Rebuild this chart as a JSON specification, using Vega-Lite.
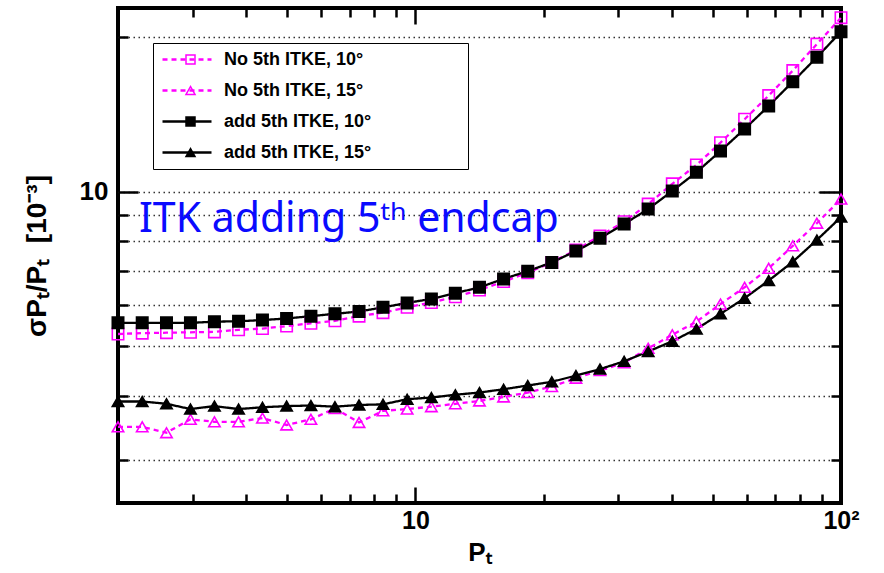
{
  "$schema": "https://vega.github.io/schema/vega-lite/v6.json",
  "width": 723,
  "height": 495,
  "autosize": {"type": "none"},
  "padding": {"left": 118, "top": 8, "right": 43, "bottom": 70},
  "background": "white",
  "config": {"view": {"stroke": "black", "strokeWidth": 4}, "font": "Liberation Sans"},
  "datasets": {
    "curves": [
      {"series": "No 5th ITKE, 10°", "pt": 2.00, "res": 5.28},
      {"series": "No 5th ITKE, 10°", "pt": 2.28, "res": 5.30},
      {"series": "No 5th ITKE, 10°", "pt": 2.60, "res": 5.31},
      {"series": "No 5th ITKE, 10°", "pt": 2.96, "res": 5.32},
      {"series": "No 5th ITKE, 10°", "pt": 3.37, "res": 5.33},
      {"series": "No 5th ITKE, 10°", "pt": 3.84, "res": 5.38},
      {"series": "No 5th ITKE, 10°", "pt": 4.37, "res": 5.41},
      {"series": "No 5th ITKE, 10°", "pt": 4.98, "res": 5.47},
      {"series": "No 5th ITKE, 10°", "pt": 5.68, "res": 5.54},
      {"series": "No 5th ITKE, 10°", "pt": 6.47, "res": 5.60},
      {"series": "No 5th ITKE, 10°", "pt": 7.37, "res": 5.72},
      {"series": "No 5th ITKE, 10°", "pt": 8.39, "res": 5.81},
      {"series": "No 5th ITKE, 10°", "pt": 9.56, "res": 5.95},
      {"series": "No 5th ITKE, 10°", "pt": 10.90, "res": 6.08},
      {"series": "No 5th ITKE, 10°", "pt": 12.41, "res": 6.24},
      {"series": "No 5th ITKE, 10°", "pt": 14.14, "res": 6.43},
      {"series": "No 5th ITKE, 10°", "pt": 16.11, "res": 6.68},
      {"series": "No 5th ITKE, 10°", "pt": 18.36, "res": 6.95},
      {"series": "No 5th ITKE, 10°", "pt": 20.91, "res": 7.28},
      {"series": "No 5th ITKE, 10°", "pt": 23.83, "res": 7.70},
      {"series": "No 5th ITKE, 10°", "pt": 27.14, "res": 8.20},
      {"series": "No 5th ITKE, 10°", "pt": 30.93, "res": 8.74},
      {"series": "No 5th ITKE, 10°", "pt": 35.23, "res": 9.46},
      {"series": "No 5th ITKE, 10°", "pt": 40.14, "res": 10.36},
      {"series": "No 5th ITKE, 10°", "pt": 45.73, "res": 11.27},
      {"series": "No 5th ITKE, 10°", "pt": 52.10, "res": 12.46},
      {"series": "No 5th ITKE, 10°", "pt": 59.36, "res": 13.84},
      {"series": "No 5th ITKE, 10°", "pt": 67.62, "res": 15.39},
      {"series": "No 5th ITKE, 10°", "pt": 77.04, "res": 17.22},
      {"series": "No 5th ITKE, 10°", "pt": 87.77, "res": 19.39},
      {"series": "No 5th ITKE, 10°", "pt": 100, "res": 21.83},
      {"series": "No 5th ITKE, 15°", "pt": 2.00, "res": 3.48},
      {"series": "No 5th ITKE, 15°", "pt": 2.28, "res": 3.48},
      {"series": "No 5th ITKE, 15°", "pt": 2.60, "res": 3.39},
      {"series": "No 5th ITKE, 15°", "pt": 2.96, "res": 3.60},
      {"series": "No 5th ITKE, 15°", "pt": 3.37, "res": 3.56},
      {"series": "No 5th ITKE, 15°", "pt": 3.84, "res": 3.56},
      {"series": "No 5th ITKE, 15°", "pt": 4.37, "res": 3.62},
      {"series": "No 5th ITKE, 15°", "pt": 4.98, "res": 3.51},
      {"series": "No 5th ITKE, 15°", "pt": 5.68, "res": 3.60},
      {"series": "No 5th ITKE, 15°", "pt": 6.47, "res": 3.78},
      {"series": "No 5th ITKE, 15°", "pt": 7.37, "res": 3.55},
      {"series": "No 5th ITKE, 15°", "pt": 8.39, "res": 3.74},
      {"series": "No 5th ITKE, 15°", "pt": 9.56, "res": 3.77},
      {"series": "No 5th ITKE, 15°", "pt": 10.90, "res": 3.81},
      {"series": "No 5th ITKE, 15°", "pt": 12.41, "res": 3.86},
      {"series": "No 5th ITKE, 15°", "pt": 14.14, "res": 3.91},
      {"series": "No 5th ITKE, 15°", "pt": 16.11, "res": 3.98},
      {"series": "No 5th ITKE, 15°", "pt": 18.36, "res": 4.06},
      {"series": "No 5th ITKE, 15°", "pt": 20.91, "res": 4.17},
      {"series": "No 5th ITKE, 15°", "pt": 23.83, "res": 4.33},
      {"series": "No 5th ITKE, 15°", "pt": 27.14, "res": 4.48},
      {"series": "No 5th ITKE, 15°", "pt": 30.93, "res": 4.64},
      {"series": "No 5th ITKE, 15°", "pt": 35.23, "res": 4.95},
      {"series": "No 5th ITKE, 15°", "pt": 40.14, "res": 5.26},
      {"series": "No 5th ITKE, 15°", "pt": 45.73, "res": 5.58},
      {"series": "No 5th ITKE, 15°", "pt": 52.10, "res": 6.04},
      {"series": "No 5th ITKE, 15°", "pt": 59.36, "res": 6.51},
      {"series": "No 5th ITKE, 15°", "pt": 67.62, "res": 7.09},
      {"series": "No 5th ITKE, 15°", "pt": 77.04, "res": 7.84},
      {"series": "No 5th ITKE, 15°", "pt": 87.77, "res": 8.68},
      {"series": "No 5th ITKE, 15°", "pt": 100, "res": 9.67},
      {"series": "add 5th ITKE, 10°", "pt": 2.00, "res": 5.55},
      {"series": "add 5th ITKE, 10°", "pt": 2.28, "res": 5.55},
      {"series": "add 5th ITKE, 10°", "pt": 2.60, "res": 5.55},
      {"series": "add 5th ITKE, 10°", "pt": 2.96, "res": 5.55},
      {"series": "add 5th ITKE, 10°", "pt": 3.37, "res": 5.58},
      {"series": "add 5th ITKE, 10°", "pt": 3.84, "res": 5.59},
      {"series": "add 5th ITKE, 10°", "pt": 4.37, "res": 5.62},
      {"series": "add 5th ITKE, 10°", "pt": 4.98, "res": 5.66},
      {"series": "add 5th ITKE, 10°", "pt": 5.68, "res": 5.72},
      {"series": "add 5th ITKE, 10°", "pt": 6.47, "res": 5.78},
      {"series": "add 5th ITKE, 10°", "pt": 7.37, "res": 5.84},
      {"series": "add 5th ITKE, 10°", "pt": 8.39, "res": 5.95},
      {"series": "add 5th ITKE, 10°", "pt": 9.56, "res": 6.07},
      {"series": "add 5th ITKE, 10°", "pt": 10.90, "res": 6.18},
      {"series": "add 5th ITKE, 10°", "pt": 12.41, "res": 6.34},
      {"series": "add 5th ITKE, 10°", "pt": 14.14, "res": 6.51},
      {"series": "add 5th ITKE, 10°", "pt": 16.11, "res": 6.76},
      {"series": "add 5th ITKE, 10°", "pt": 18.36, "res": 7.00},
      {"series": "add 5th ITKE, 10°", "pt": 20.91, "res": 7.28},
      {"series": "add 5th ITKE, 10°", "pt": 23.83, "res": 7.66},
      {"series": "add 5th ITKE, 10°", "pt": 27.14, "res": 8.11},
      {"series": "add 5th ITKE, 10°", "pt": 30.93, "res": 8.65},
      {"series": "add 5th ITKE, 10°", "pt": 35.23, "res": 9.25},
      {"series": "add 5th ITKE, 10°", "pt": 40.14, "res": 10.03},
      {"series": "add 5th ITKE, 10°", "pt": 45.73, "res": 10.91},
      {"series": "add 5th ITKE, 10°", "pt": 52.10, "res": 12.00},
      {"series": "add 5th ITKE, 10°", "pt": 59.36, "res": 13.25},
      {"series": "add 5th ITKE, 10°", "pt": 67.62, "res": 14.69},
      {"series": "add 5th ITKE, 10°", "pt": 77.04, "res": 16.38},
      {"series": "add 5th ITKE, 10°", "pt": 87.77, "res": 18.28},
      {"series": "add 5th ITKE, 10°", "pt": 100, "res": 20.50},
      {"series": "add 5th ITKE, 15°", "pt": 2.00, "res": 3.90},
      {"series": "add 5th ITKE, 15°", "pt": 2.28, "res": 3.90},
      {"series": "add 5th ITKE, 15°", "pt": 2.60, "res": 3.86},
      {"series": "add 5th ITKE, 15°", "pt": 2.96, "res": 3.77},
      {"series": "add 5th ITKE, 15°", "pt": 3.37, "res": 3.82},
      {"series": "add 5th ITKE, 15°", "pt": 3.84, "res": 3.77},
      {"series": "add 5th ITKE, 15°", "pt": 4.37, "res": 3.80},
      {"series": "add 5th ITKE, 15°", "pt": 4.98, "res": 3.82},
      {"series": "add 5th ITKE, 15°", "pt": 5.68, "res": 3.83},
      {"series": "add 5th ITKE, 15°", "pt": 6.47, "res": 3.81},
      {"series": "add 5th ITKE, 15°", "pt": 7.37, "res": 3.84},
      {"series": "add 5th ITKE, 15°", "pt": 8.39, "res": 3.85},
      {"series": "add 5th ITKE, 15°", "pt": 9.56, "res": 3.94},
      {"series": "add 5th ITKE, 15°", "pt": 10.90, "res": 3.97},
      {"series": "add 5th ITKE, 15°", "pt": 12.41, "res": 4.02},
      {"series": "add 5th ITKE, 15°", "pt": 14.14, "res": 4.06},
      {"series": "add 5th ITKE, 15°", "pt": 16.11, "res": 4.12},
      {"series": "add 5th ITKE, 15°", "pt": 18.36, "res": 4.19},
      {"series": "add 5th ITKE, 15°", "pt": 20.91, "res": 4.26},
      {"series": "add 5th ITKE, 15°", "pt": 23.83, "res": 4.38},
      {"series": "add 5th ITKE, 15°", "pt": 27.14, "res": 4.51},
      {"series": "add 5th ITKE, 15°", "pt": 30.93, "res": 4.67},
      {"series": "add 5th ITKE, 15°", "pt": 35.23, "res": 4.88},
      {"series": "add 5th ITKE, 15°", "pt": 40.14, "res": 5.11},
      {"series": "add 5th ITKE, 15°", "pt": 45.73, "res": 5.40},
      {"series": "add 5th ITKE, 15°", "pt": 52.10, "res": 5.78},
      {"series": "add 5th ITKE, 15°", "pt": 59.36, "res": 6.20},
      {"series": "add 5th ITKE, 15°", "pt": 67.62, "res": 6.71},
      {"series": "add 5th ITKE, 15°", "pt": 77.04, "res": 7.30},
      {"series": "add 5th ITKE, 15°", "pt": 87.77, "res": 8.05},
      {"series": "add 5th ITKE, 15°", "pt": 100, "res": 8.92}
    ],
    "note": [{"pt": 2.24, "res": 8.35, "label": "ITK adding 5ᵗʰ endcap"}]
  },
  "data": {"name": "curves"},
  "layer": [
    {
      "mark": {"type": "line", "strokeWidth": 2.3, "clip": false},
      "encoding": {
        "x": {"field": "pt", "type": "quantitative",
          "scale": {"type": "log", "domain": [2, 100], "nice": false},
          "axis": {"orient": "bottom", "values": [3,4,5,6,7,8,9,10,20,30,40,50,60,70,80,90,100],
            "labelExpr": "datum.value == 10 ? '10' : datum.value == 100 ? '10²' : ''",
            "domain": false, "grid": false, "tickColor": "black", "tickWidth": 2.5,
            "tickSize": {"condition": {"test": "datum.value == 10 || datum.value == 100", "value": -16}, "value": -9},
            "labelPadding": 21, "labelFont": "Liberation Sans", "labelFontWeight": "bold", "labelFontSize": 25, "labelColor": "black",
            "labelFlush": false, "labelOverlap": false,
            "title": "Pₜ", "titleFont": "Liberation Sans", "titleFontWeight": "bold", "titleFontSize": 26, "titleColor": "black",
            "titleBaseline": "alphabetic", "titleY": 57}},
        "y": {"field": "res", "type": "quantitative",
          "scale": {"type": "log", "domain": [2.473, 22.8], "nice": false},
          "axis": {"orient": "left", "values": [3,4,5,6,7,8,9,10,20],
            "labelExpr": "datum.value == 10 ? '10' : ''",
            "domain": false, "grid": true, "gridDash": [1.5, 3.5], "gridColor": "#333333", "gridWidth": 1.5,
            "tickColor": "black", "tickWidth": 2.5,
            "tickSize": {"condition": {"test": "datum.value == 10", "value": -20}, "value": -10},
            "labelPadding": 30, "labelFont": "Liberation Sans", "labelFontWeight": "bold", "labelFontSize": 26, "labelColor": "black",
            "labelFlush": false, "labelOverlap": false,
            "title": "σPₜ/Pₜ\u00a0\u00a0[10⁻³]", "titleFont": "Liberation Sans", "titleFontWeight": "bold", "titleFontSize": 28, "titleColor": "black",
            "titleBaseline": "alphabetic", "titleX": -73}},
        "stroke": {"field": "series", "type": "nominal",
          "scale": {"domain": ["No 5th ITKE, 10°", "No 5th ITKE, 15°", "add 5th ITKE, 10°", "add 5th ITKE, 15°"],
            "range": ["#ff00ff", "#ff00ff", "black", "black"]},
          "legend": {"orient": "top-left", "offset": 35, "title": null, "padding": 4,
            "symbolType": "stroke", "symbolSize": 2401, "symbolStrokeWidth": 2.5, "symbolOffset": 4, "clipHeight": 25, "rowPadding": 6,
            "labelOffset": 11, "labelFont": "Liberation Sans", "labelFontWeight": "bold", "labelFontSize": 18, "labelColor": "black",
            "labelLimit": 400}},
        "strokeDash": {"field": "series", "type": "nominal",
          "scale": {"domain": ["No 5th ITKE, 10°", "No 5th ITKE, 15°", "add 5th ITKE, 10°", "add 5th ITKE, 15°"],
            "range": [[5, 4], [5, 4], [1, 0], [1, 0]]},
          "legend": {"orient": "top-left", "offset": 35, "title": null, "padding": 4,
            "symbolType": "stroke", "symbolSize": 2401, "symbolStrokeWidth": 2.5, "symbolOffset": 4, "clipHeight": 25, "rowPadding": 6,
            "labelOffset": 11, "labelFont": "Liberation Sans", "labelFontWeight": "bold", "labelFontSize": 18, "labelColor": "black",
            "labelLimit": 400}}
      }
    },
    {
      "mark": {"type": "point", "filled": false, "size": 130, "strokeWidth": 1.6, "opacity": 1, "clip": false},
      "encoding": {
        "x": {"field": "pt", "type": "quantitative", "scale": {"type": "log", "domain": [2, 100], "nice": false}, "axis": null},
        "y": {"field": "res", "type": "quantitative", "scale": {"type": "log", "domain": [2.473, 22.8], "nice": false}, "axis": null},
        "stroke": {"field": "series", "type": "nominal",
          "scale": {"domain": ["No 5th ITKE, 10°", "No 5th ITKE, 15°", "add 5th ITKE, 10°", "add 5th ITKE, 15°"],
            "range": ["#ff00ff", "#ff00ff", "black", "black"]},
          "legend": {"orient": "none", "legendX": 35, "legendY": 35, "title": null, "padding": 4, "strokeColor": "black",
            "symbolSize": 81, "symbolStrokeWidth": 1.5, "symbolOffset": 24.5, "clipHeight": 25, "rowPadding": 6,
            "labelOffset": 264, "labelExpr": "''", "labelFontSize": 18,
            "encode": {"legend": {"update": {"strokeWidth": {"value": 1.5}}}}}},
        "shape": {"field": "series", "type": "nominal",
          "scale": {"domain": ["No 5th ITKE, 10°", "No 5th ITKE, 15°", "add 5th ITKE, 10°", "add 5th ITKE, 15°"],
            "range": ["square", "triangle-up", "square", "triangle-up"]},
          "legend": {"orient": "none", "legendX": 35, "legendY": 35, "title": null, "padding": 4, "strokeColor": "black",
            "symbolSize": 81, "symbolStrokeWidth": 1.5, "symbolOffset": 24.5, "clipHeight": 25, "rowPadding": 6,
            "labelOffset": 264, "labelExpr": "''", "labelFontSize": 18,
            "encode": {"legend": {"update": {"strokeWidth": {"value": 1.5}}}}}},
        "fill": {"field": "series", "type": "nominal",
          "scale": {"domain": ["No 5th ITKE, 10°", "No 5th ITKE, 15°", "add 5th ITKE, 10°", "add 5th ITKE, 15°"],
            "range": ["transparent", "transparent", "black", "black"]},
          "legend": {"orient": "none", "legendX": 35, "legendY": 35, "title": null, "padding": 4, "strokeColor": "black",
            "symbolSize": 81, "symbolStrokeWidth": 1.5, "symbolOffset": 24.5, "clipHeight": 25, "rowPadding": 6,
            "labelOffset": 264, "labelExpr": "''", "labelFontSize": 18,
            "encode": {"legend": {"update": {"strokeWidth": {"value": 1.5}}}}}}
      }
    },
    {
      "data": {"name": "note"},
      "mark": {"type": "text", "align": "left", "baseline": "alphabetic", "font": "Noto Sans", "fontSize": 41, "color": "#0a0aff"},
      "encoding": {
        "x": {"field": "pt", "type": "quantitative", "scale": {"type": "log", "domain": [2, 100], "nice": false},
          "axis": {"orient": "top", "values": [3,4,5,6,7,8,9,10,20,30,40,50,60,70,80,90,100], "labels": false, "domain": false,
            "grid": false, "title": null, "tickColor": "black", "tickWidth": 2.5,
            "tickSize": {"condition": {"test": "datum.value == 10", "value": -16}, "value": -9}}},
        "y": {"field": "res", "type": "quantitative", "scale": {"type": "log", "domain": [2.473, 22.8], "nice": false},
          "axis": {"orient": "right", "values": [3,4,5,6,7,8,9,10,20], "labels": false, "domain": false,
            "grid": false, "title": null, "tickColor": "black", "tickWidth": 2.5,
            "tickSize": {"condition": {"test": "datum.value == 10", "value": -22}, "value": -10}}},
        "text": {"field": "label"}
      }
    }
  ],
  "resolve": {
    "axis": {"x": "independent", "y": "independent"},
    "legend": {"stroke": "independent", "strokeDash": "independent", "shape": "independent", "fill": "independent"}
  }
}
